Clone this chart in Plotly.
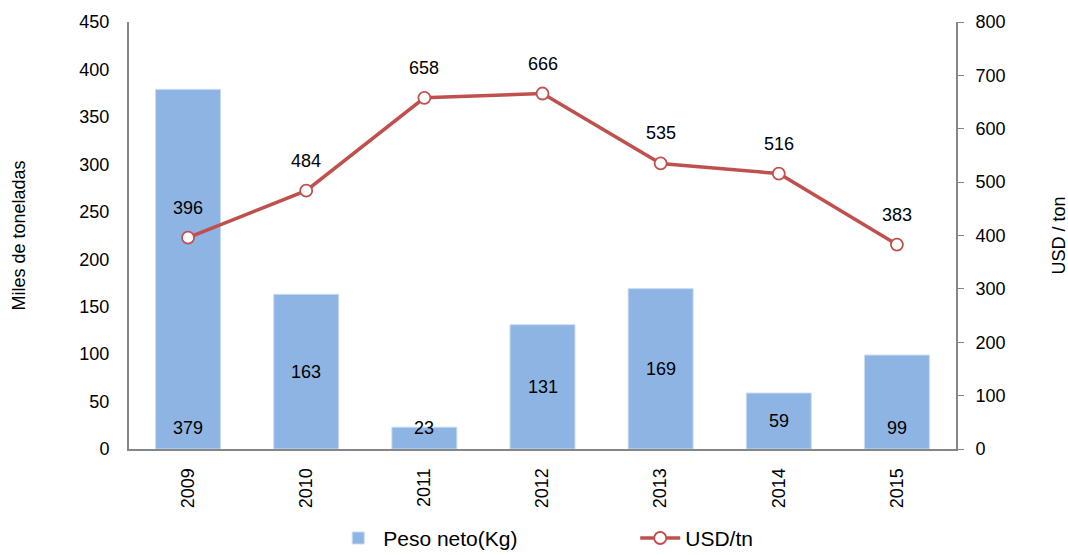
import plotly.graph_objects as go

years = ["2009", "2010", "2011", "2012", "2013", "2014", "2015"]
peso = [379, 163, 23, 131, 169, 59, 99]
usd = [396, 484, 658, 666, 535, 516, 383]
# where each bar's label sits: "base" (near the bottom) or "middle"
bar_label_place = ["base", "middle", "base", "middle", "middle", "middle", "base"]

FONT = "Liberation Sans, Arial, sans-serif"
BAR = "#8EB4E3"
RED = "#C0504D"
AX = "#868686"

fig = go.Figure()
fig.add_trace(go.Bar(
    x=years, y=peso, name="Peso neto(Kg)",
    marker=dict(color=BAR, line=dict(color="#C9DCF3", width=1)),
    yaxis="y",
))
fig.add_trace(go.Scatter(
    x=years, y=usd, name="USD/tn", mode="lines+markers",
    line=dict(color=RED, width=3.5),
    marker=dict(symbol="circle", size=12, color="white", line=dict(color=RED, width=1.8)),
    yaxis="y2",
))

ann = []
for i, (v, place) in enumerate(zip(peso, bar_label_place)):
    ann.append(dict(x=i, y=(22 if place == "base" else v / 2), xref="x", yref="y",
                    text=str(v), showarrow=False, font=dict(size=18, color="black", family=FONT)))
for i, v in enumerate(usd):
    ann.append(dict(x=i, y=v, xref="x", yref="y2", yshift=30,
                    text=str(v), showarrow=False, font=dict(size=18, color="black", family=FONT)))
# axis titles
ann.append(dict(x=0, y=0.5, xref="paper", yref="paper", xshift=-111, textangle=-90,
                xanchor="center", yanchor="middle",
                text="Miles de toneladas", showarrow=False, font=dict(size=18, family=FONT)))
ann.append(dict(x=1, y=0.5, xref="paper", yref="paper", xshift=102, textangle=-90,
                xanchor="center", yanchor="middle",
                text="USD / ton", showarrow=False, font=dict(size=18, family=FONT)))

fig.update_layout(
    width=1068, height=555,
    margin=dict(l=129, r=112, t=22, b=106),
    paper_bgcolor="white", plot_bgcolor="white",
    font=dict(family=FONT, size=18, color="black"),
    bargap=0.45,
    showlegend=True,
    legend=dict(orientation="h", xref="container", x=0.312, xanchor="left",
                yref="container", y=0.03, yanchor="middle",
                font=dict(size=21, family=FONT), entrywidth=247, entrywidthmode="pixels",
                itemwidth=40),
    annotations=ann,
    xaxis=dict(type="category", range=[-0.5, len(years) - 0.5], tickangle=-90,
               showline=True, linecolor=AX, linewidth=2, automargin=False,
               ticks="", showgrid=False, tickfont=dict(size=18), ticklabelstandoff=10),
    yaxis=dict(range=[0, 450], dtick=50, showline=True, linecolor=AX, linewidth=2,
               ticks="", showgrid=False, zeroline=False, tickfont=dict(size=18),
               automargin=False, ticklabelstandoff=14),
    yaxis2=dict(range=[0, 800], dtick=100, overlaying="y", side="right", showline=True,
                linecolor=AX, linewidth=2, ticks="outside", ticklen=6, tickcolor=AX,
                showgrid=False, zeroline=False, tickfont=dict(size=18),
                automargin=False, ticklabelstandoff=8),
)
fig.write_html("out.html", config={"displayModeBar": False},
               post_script="document.body.style.margin='0px';")
